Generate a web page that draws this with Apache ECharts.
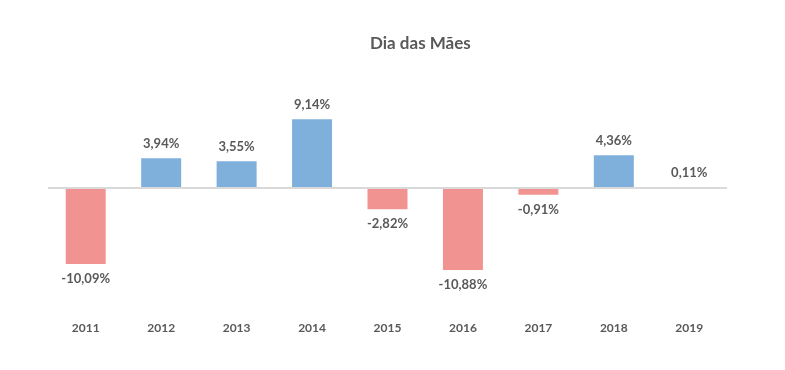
<!DOCTYPE html>
<html><head><meta charset="utf-8">
<script src="https://cdn.jsdelivr.net/npm/echarts@6/dist/echarts.min.js"></script>
<style>html,body{margin:0;padding:0;background:#fff}#c{width:785px;height:370px}</style>
</head><body><div id="c"></div>
<script>
const titleText = 'Dia das Mães';
const years = ['2011','2012','2013','2014','2015','2016','2017','2018','2019'];
const values = [-10.09, 3.94, 3.55, 9.14, -2.82, -10.88, -0.91, 4.36, 0.11];

const blue = '#7FAFDB';
const red = '#F09391';
const textColor = '#595959';
const font = 'Lato';

const chart = echarts.init(document.getElementById('c'));
chart.setOption({
  backgroundColor: '#fff',
  title: {
    text: titleText, left: 365, top: 30,
    textStyle: { fontFamily: font, fontSize: 17, fontWeight: 'bold', color: textColor }
  },
  grid: { left: 48, right: 58, top: 112.7, bottom: 370 - 308.5 },
  xAxis: {
    type: 'category', data: years,
    axisLine: { show: false, onZero: false }, axisTick: { show: false },
    axisLabel: { color: textColor, fontFamily: font, fontWeight: 'bold', fontSize: 12, margin: 14 }
  },
  yAxis: { type: 'value', min: -16, max: 10, show: false, splitLine: { show: false } },
  series: [{
    type: 'bar', barWidth: '53%',
    data: values.map(v => ({
      value: v,
      itemStyle: { color: v < 0 ? red : blue },
      label: { position: v < 0 ? 'bottom' : 'top' }
    })),
    label: {
      show: true, distance: 8, color: textColor, fontFamily: font, fontWeight: 'bold', fontSize: 13,
      formatter: p => p.value.toFixed(2).replace('.', ',') + '%'
    },
    markLine: {
      silent: true, symbol: 'none', label: { show: false },
      lineStyle: { color: '#D9D9D9', type: 'solid', width: 2 },
      data: [{ yAxis: 0 }]
    },
    z: 3
  }]
});
</script></body></html>
